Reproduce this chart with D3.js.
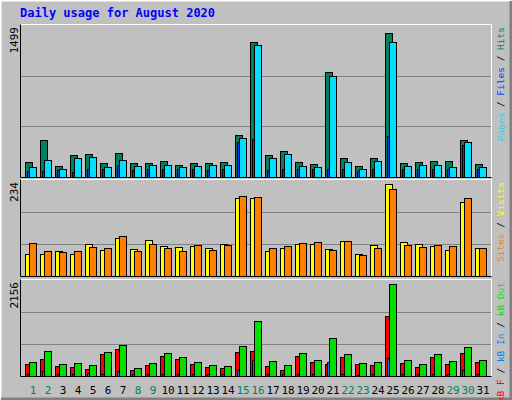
<!DOCTYPE html>
<html>
<head>
<meta charset="utf-8">
<script src="https://cdn.jsdelivr.net/npm/d3@7"></script>
<style>
  body { margin: 0; background: #fff; }
  text { font-family: "DejaVu Sans Mono", monospace; }
</style>
</head>
<body>
<div id="chart"></div>
<script>
// values
const days = d3.range(1, 32);
const weekend = [1, 2, 8, 9, 15, 16, 22, 23, 29, 30];
const hits = [151, 372, 112, 220, 230, 142, 240, 142, 142, 161, 122, 142, 142, 151, 427, 1365,
  220, 260, 151, 132, 1060, 190, 112, 190, 1460, 142, 151, 161, 161, 378, 132];
const pages = [102, 171, 82, 190, 200, 102, 171, 112, 122, 122, 102, 112, 122, 122, 400, 1335,
  190, 230, 112, 102, 1020, 151, 82, 161, 1365, 112, 122, 122, 102, 358, 102];
const files = [56, 60, 66, 53, 86, 76, 125, 66, 76, 86, 76, 76, 66, 86, 353, 388,
  66, 76, 86, 86, 86, 86, 56, 86, 418, 86, 76, 86, 76, 320, 76];
const visits = [54, 54, 62, 54, 79, 64, 93, 67, 88, 74, 71, 74, 69, 79, 191, 191,
  62, 69, 79, 79, 67, 86, 54, 76, 225, 84, 79, 74, 64, 181, 69];
const sites = [81, 62, 59, 62, 71, 69, 98, 62, 79, 69, 62, 76, 64, 76, 196, 193,
  69, 74, 81, 84, 64, 86, 52, 69, 213, 76, 71, 76, 74, 189, 69];
const kbF = [264, 377, 219, 196, 151, 490, 603, 128, 241, 445, 377, 264, 196, 173, 535, 558,
  219, 128, 445, 309, 264, 422, 264, 241, 1350, 287, 196, 422, 264, 513, 309];
const kbIn = [45, 113, 40, 50, 60, 40, 106, 35, 40, 45, 40, 40, 35, 40, 128, 354,
  45, 50, 40, 40, 309, 40, 30, 40, 400, 40, 35, 40, 40, 128, 40];
const kbOut = [317, 558, 264, 287, 241, 535, 694, 173, 287, 513, 422, 309, 241, 219, 671, 1237,
  332, 241, 513, 354, 852, 490, 287, 309, 2073, 354, 264, 490, 332, 648, 354];
const maxLabels = ["1499", "234", "2156"];

const W = 512, H = 400;
const svg = d3.select("#chart").append("svg").attr("width", W).attr("height", H);

// outer bevelled frame
svg.append("rect").attr("width", W).attr("height", H).attr("fill", "#c0c0c0");
svg.append("path").attr("d", `M0.5,${H - 0.5}V0.5H${W - 0.5}`).attr("stroke", "#fff").attr("stroke-width", 2).attr("fill", "none");
svg.append("path").attr("d", `M1,${H - 1}H${W - 1}V1`).attr("stroke", "#808080").attr("stroke-width", 3).attr("fill", "none");

svg.append("text").attr("x", 20).attr("y", 17)
  .attr("fill", "#0000ff").attr("font-size", 12).attr("font-weight", "bold")
  .text("Daily usage for August 2020");

const x = d3.scaleBand().domain(days).range([22, 487]);

const panels = [
  { top: 25, bottom: 177, max: 1540, label: maxLabels[0],
    series: [{ v: hits, c: "#00805c", dx: 3, w: 7 }, { v: files, c: "#0040ff", dx: 5, w: 4 }, { v: pages, c: "#00e0ff", dx: 7, w: 7 }],
    legend: [["Pages", "#00e0ff"], ["Files", "#0040ff"], ["Hits", "#00805c"]] },
  { top: 180, bottom: 276, max: 234, label: maxLabels[1],
    series: [{ v: visits, c: "#ffff00", dx: 3, w: 7 }, { v: sites, c: "#ff8000", dx: 7, w: 7 }],
    legend: [["Sites", "#ff8000"], ["Visits", "#ffff00"]] },
  { top: 280, bottom: 376, max: 2156, label: maxLabels[2],
    series: [{ v: kbF, c: "#ff0000", dx: 3, w: 7 }, { v: kbIn, c: "#0080ff", dx: 5, w: 3 }, { v: kbOut, c: "#00e000", dx: 7, w: 7 }],
    legend: [["kB F", "#ff0000"], ["kB In", "#0080ff"], ["kB Out", "#00e000"]] }
];

panels.forEach((p) => {
  const y = d3.scaleLinear().domain([0, p.max]).range([p.bottom, p.top]);
  const g = svg.append("g");
  // gridlines at thirds
  [1, 2].forEach((k) => {
    const gy = Math.round(p.bottom - (p.bottom - p.top) * k / 3) + 0.5;
    g.append("line").attr("x1", 21).attr("x2", 491).attr("y1", gy).attr("y2", gy).attr("stroke", "#808080");
  });
  g.append("path").attr("d", `M20.5,${p.top - 0.5}H491.5V${p.bottom + 0.5}`).attr("stroke", "#fff").attr("fill", "none");
  g.append("path").attr("d", `M20.5,${p.top - 0.5}V${p.bottom + 0.5}H491.5`).attr("stroke", "#000").attr("fill", "none");

  p.series.forEach((s) => {
    g.selectAll(null).data(days).enter().append("rect")
      .attr("x", (d) => x(d) + s.dx + 0.5)
      .attr("y", (d, i) => Math.round(y(s.v[i])) + 0.5)
      .attr("width", s.w)
      .attr("height", (d, i) => Math.max(0, p.bottom - Math.round(y(s.v[i]))))
      .attr("fill", s.c).attr("stroke", "#000");
  });

  g.append("text").attr("transform", `translate(18,${p.top + 2}) rotate(-90)`)
    .attr("text-anchor", "end").attr("font-size", 11).text(p.label);

  // rotated legend on the right, first item at bottom
  const leg = g.append("text").attr("transform", `translate(501,${p.top + 2}) rotate(-90)`)
    .attr("text-anchor", "end").attr("font-size", 9.5).attr("dy", "0.35em");
  p.legend.forEach(([t, c], i) => {
    if (i > 0) leg.append("tspan").attr("fill", "#000").text(" / ");
    leg.append("tspan").attr("fill", c).text(t);
  });
});

svg.selectAll(".day").data(days).enter().append("text")
  .attr("x", (d) => x(d) + 11).attr("y", 394)
  .attr("text-anchor", "middle").attr("font-size", 11)
  .attr("fill", (d) => weekend.includes(d) ? "#00805c" : "#000")
  .text((d) => d);
</script>
</body>
</html>
